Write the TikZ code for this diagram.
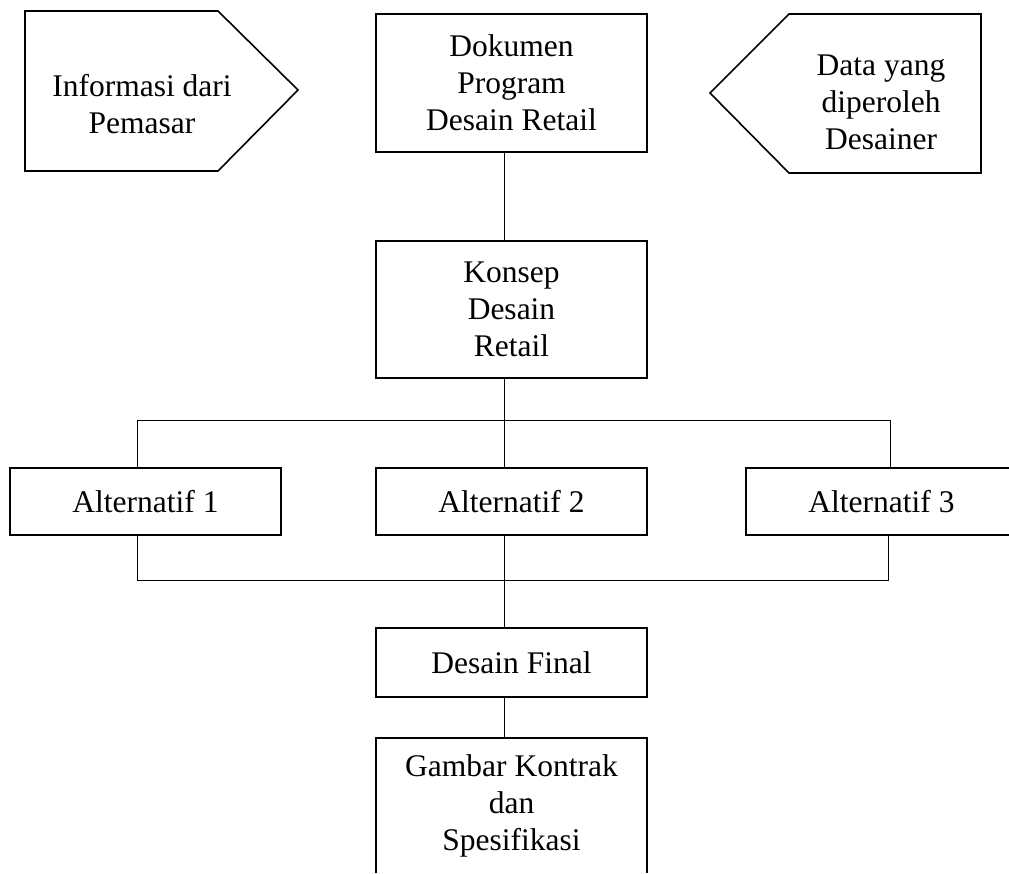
\documentclass[tikz,border=0pt]{standalone}
\usepackage{fontspec}
\setmainfont{Liberation Serif}
\begin{document}
\begin{tikzpicture}[x=1pt,y=-1pt,
  txt/.style={font=\fontsize{31.5}{37}\selectfont, align=center, inner sep=0pt},
  box/.style={txt, draw, line width=1.6pt, minimum width=271pt},
  openbox/.style={txt, minimum width=271pt},
  tag/.style={line width=1.6pt, line join=miter},
  link/.style={line width=0.9pt}]
\useasboundingbox (0,0) rectangle (1009,873);

% input tags on both sides
\draw[tag] (25,11) -- (218,11) -- (298,90) -- (218,171) -- (25,171) -- cycle;
\node[txt] (pemasar) at (142,104) {Informasi dari\\Pemasar};
\draw[tag] (981,14) -- (789,14) -- (710,93) -- (789,173) -- (981,173) -- cycle;
\node[txt] (desainer) at (881,102) {Data yang\\diperoleh\\Desainer};

% main chain of boxes
\node[box, minimum height=138pt] (dok) at (511.5,83) {Dokumen\\Program\\Desain Retail};
\node[box, minimum height=137pt] (kon) at (511.5,309.5) {Konsep\\Desain\\Retail};
\node[box, minimum height=67pt] (alt1) at (145.5,501.5) {Alternatif 1};
\node[box, minimum height=67pt] (alt2) at (511.5,501.5) {Alternatif 2};
\node[box, minimum height=67pt] (alt3) at (881.5,501.5) {Alternatif 3};
\node[box, minimum height=69pt] (fin) at (511.5,662.5) {Desain Final};
\node[openbox, minimum height=135pt] (gam) at (511.5,805.5) {Gambar Kontrak\\dan\\Spesifikasi};
\draw[line width=1.6pt] (gam.south west) -- (gam.north west) -- (gam.north east) -- (gam.south east);

% connector spine and the two buses
\coordinate (spine) at (504,0);
\coordinate (busL) at (137,420);
\coordinate (busR) at (890,420);
\coordinate (lowL) at (137,580);
\coordinate (lowR) at (888,580);

\draw[link] (dok.south -| spine) -- (kon.north -| spine);
\draw[link] (kon.south -| spine) -- (alt2.north -| spine);
\draw[link] (busL) -- (busR);
\draw[link] (busL) -- (alt1.north -| busL);
\draw[link] (busR) -- (alt3.north -| busR);
\draw[link] (alt1.south -| lowL) -- (lowL) -- (lowR) -- (alt3.south -| lowR);
\draw[link] (alt2.south -| spine) -- (fin.north -| spine);
\draw[link] (fin.south -| spine) -- (gam.north -| spine);
\end{tikzpicture}
\end{document}
